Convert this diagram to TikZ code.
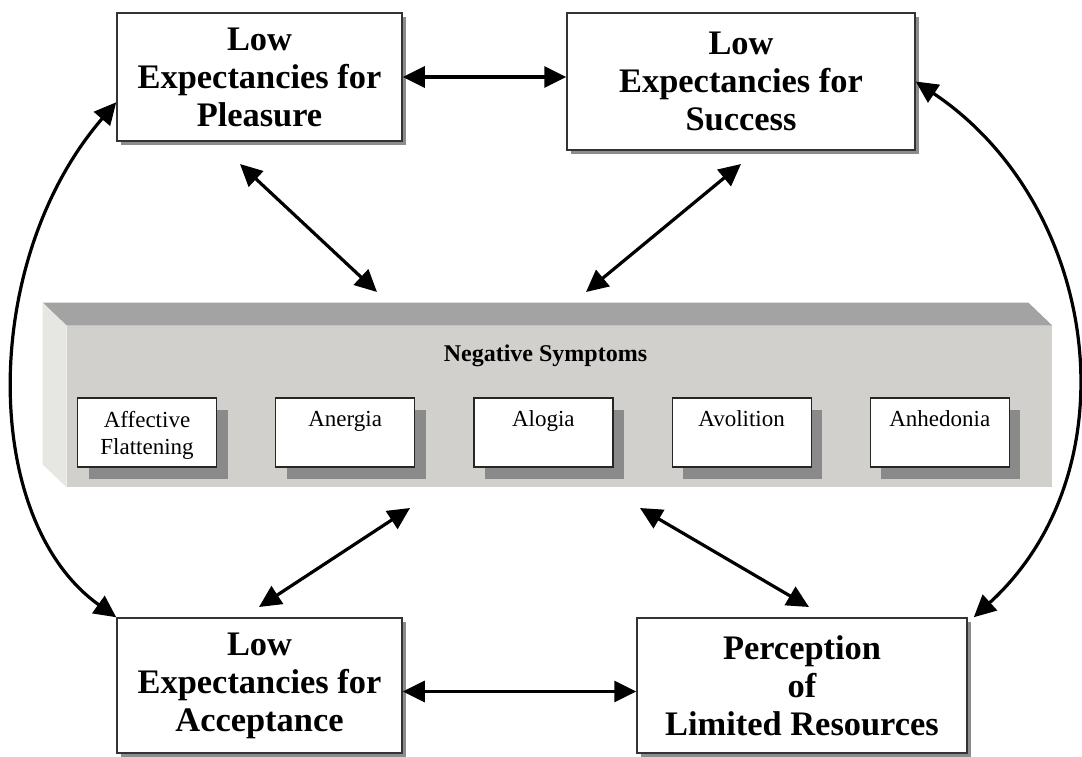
\documentclass[tikz,border=0pt]{standalone}
\usepackage{fontspec}
\setmainfont{Liberation Serif}
\usetikzlibrary{arrows.meta}
\usetikzlibrary{positioning}
\usetikzlibrary{shadows}
\usetikzlibrary{calc}

\definecolor{facefront}{HTML}{D1D0CC}
\definecolor{facetop}{HTML}{A3A3A3}
\definecolor{faceside}{HTML}{E6E6E3}
\definecolor{shadowgray}{HTML}{8A8A8A}

\tikzset{
	bigbox/.style={draw=black!80,line width=0.75pt,fill=white,align=center,inner sep=0pt,
		font=\fontsize{17.2}{19}\selectfont\bfseries,
		drop shadow={shadow xshift=2pt,shadow yshift=-2pt,fill=black!45,opacity=1}},
	symbox/.style={draw=black!85,line width=0.6pt,fill=white,inner sep=0pt,
		minimum width=69.5pt,minimum height=34.5pt,
		drop shadow={shadow xshift=5.5pt,shadow yshift=-6pt,fill=shadowgray,opacity=1}},
	symlabel/.style={anchor=north,yshift=-6.5pt,align=center,inner sep=0pt,
		font=\fontsize{11.5}{13.5}\selectfont},
	paneltitle/.style={anchor=north,xshift=-7pt,yshift=-9.5pt,inner sep=0pt,
		font=\fontsize{12}{14}\selectfont\bfseries},
	panel/.style={fill=facefront,inner sep=0pt},
	biarrow/.style={{Triangle[length=11pt,width=10.5pt]}-{Triangle[length=11pt,width=10.5pt]},line width=1.6pt},
}

\begin{document}
\begin{tikzpicture}[x=0.5pt,y=-0.5pt]
	\useasboundingbox (0,0) rectangle (1082,756);
	
	% expectancy boxes
	\node[bigbox,minimum width=142.5pt,minimum height=64pt] (pleasure) at (259.5,77) {Low\\Expectancies for\\Pleasure};
	\node[bigbox,minimum width=174pt,minimum height=68.5pt] (success) at (741,81.5) {Low\\Expectancies for\\Success};
	\node[bigbox,minimum width=142.5pt,minimum height=67.5pt] (acceptance) at (259.5,685.5) {Low\\Expectancies for\\Acceptance};
	\node[bigbox,minimum width=165pt,minimum height=67.5pt] (resources) at (802,685.5) {Perception\\of\\Limited Resources};
	
	% the block
	\node[panel,minimum width=492.5pt,minimum height=80.5pt,
		label={[paneltitle]north:Negative Symptoms}] (panel) at (559.5,406.5) {};
	\fill[facetop] (panel.north west) -- ++(-24,-23) -- ($(panel.north east)+(-24,-23)$) -- (panel.north east) -- cycle;
	\fill[faceside] (panel.north west) -- ++(-24,-23) -- ($(panel.south west)+(-24,-23)$) -- (panel.south west) -- cycle;
	
	\node[symbox,label={[symlabel]north:Affective\\Flattening}] (flat) at (147,432.5) {};
	\node[symbox,right=29pt of flat,label={[symlabel]north:Anergia}] (anergia) {};
	\node[symbox,right=29pt of anergia,label={[symlabel]north:Alogia}] (alogia) {};
	\node[symbox,right=29pt of alogia,label={[symlabel]north:Avolition}] (avolition) {};
	\node[symbox,right=29pt of avolition,label={[symlabel]north:Anhedonia}] (anhedonia) {};
	
	% free ends near the block
	\coordinate (pl) at (240,164);
	\coordinate (pr) at (377,292);
	\coordinate (sl) at (586,292);
	\coordinate (sr) at (741,164);
	\coordinate (al) at (259,607);
	\coordinate (ar) at (410,508);
	\coordinate (rl) at (640,508);
	\coordinate (rr) at (809,607);
	
	\draw[biarrow] (pleasure.east) -- (pleasure.east -| success.west);
	\draw[biarrow] ([yshift=-3pt]acceptance.east) -- ([yshift=-3pt]resources.west);
	\draw[biarrow] (pl) -- (pr);
	\draw[biarrow] (sl) -- (sr);
	\draw[biarrow] (al) -- (ar);
	\draw[biarrow] (rl) -- (rr);
	
	\draw[biarrow] (pleasure.190) .. controls (-20,260) and (-20,520) .. (acceptance.north west);
	\draw[biarrow] (success.east) .. controls (1100,205) and (1135,470) .. ([xshift=3pt]resources.north east);
\end{tikzpicture}
\end{document}
